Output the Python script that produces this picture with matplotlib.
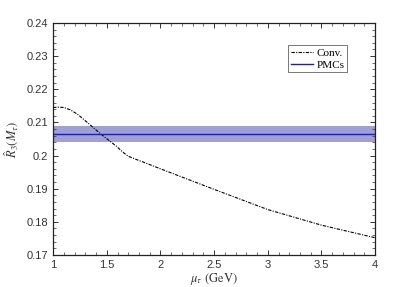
import matplotlib
matplotlib.use("Agg")
import matplotlib.pyplot as plt
from matplotlib.ticker import AutoMinorLocator

plt.rcParams["mathtext.fontset"] = "stix"

# Conventional scale-setting curve
mu = [1.0, 1.05, 1.1, 1.16, 1.23, 1.3, 1.44, 1.59, 1.65, 1.70, 1.76, 1.85, 2.0, 2.5, 3.0, 3.5, 4.0]
r3_conv = [0.2145, 0.2146, 0.2145, 0.2138, 0.2124, 0.2105, 0.2066, 0.2028, 0.2010, 0.1998, 0.1990, 0.1979,
           0.1960, 0.1898, 0.1837, 0.1790, 0.1752]

# PMC result: central value and error band
pmc_x = [1.0, 4.0]
pmc_center = 0.2066
pmc_low = 0.2042
pmc_high = 0.2090

fig = plt.figure(figsize=(4.15, 2.87), dpi=100)
ax = fig.add_axes([0.128, 0.1115, 0.776, 0.8085])

ax.fill_between(pmc_x, pmc_low, pmc_high, color="#a0a0d4", lw=0)
line_conv, = ax.plot(mu, r3_conv, color="black", ls=(0, (3, 1.2, 1, 1.2)), lw=0.8, label="Conv.")
line_pmc, = ax.plot(pmc_x, [pmc_center, pmc_center], color="#1a1ad0", lw=1.0, label="PMCs")

ax.set_xlim(1, 4)
ax.set_ylim(0.17, 0.24)
ax.set_xticks([1, 1.5, 2, 2.5, 3, 3.5, 4])
ax.set_xticklabels(["1", "1.5", "2", "2.5", "3", "3.5", "4"])
ax.set_yticks([0.17, 0.18, 0.19, 0.2, 0.21, 0.22, 0.23, 0.24])
ax.set_yticklabels(["0.17", "0.18", "0.19", "0.2", "0.21", "0.22", "0.23", "0.24"])
ax.xaxis.set_minor_locator(AutoMinorLocator(5))
ax.yaxis.set_minor_locator(AutoMinorLocator(5))
ax.tick_params(which="both", direction="in", top=True, right=True, labelsize=8, colors="#333333")
ax.tick_params(which="major", length=3.5, width=0.7)
ax.tick_params(which="minor", length=2, width=0.5)
for s in ax.spines.values():
    s.set_linewidth(0.9)
    s.set_color("#222222")
for lab in ax.get_xticklabels() + ax.get_yticklabels():
    lab.set_family("Liberation Sans")

ax.set_xlabel(r"$\mu_\tau$ (GeV)", fontsize=9, family="STIXGeneral", labelpad=1, color="#333333")
ax.set_ylabel(r"$\hat{R}_3(M_\tau)$", fontsize=9, labelpad=4, color="#333333")

leg = ax.legend(handles=[line_conv, line_pmc], loc="upper left", bbox_to_anchor=(0.73, 0.905),
                prop={"family": "Liberation Serif", "size": 8}, frameon=True, fancybox=False,
                edgecolor="#555555", handlelength=2.0, handletextpad=0.3, borderpad=0.25,
                labelspacing=0.2, borderaxespad=0)
leg.get_frame().set_linewidth(0.7)

fig.savefig("out.png", dpi=100)
